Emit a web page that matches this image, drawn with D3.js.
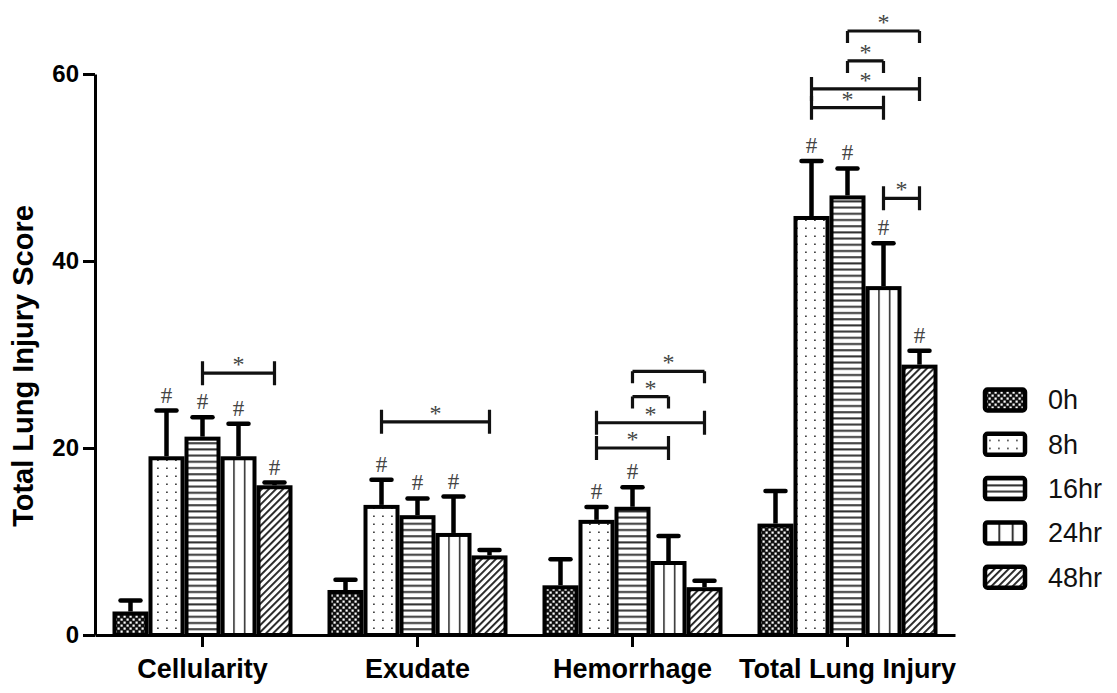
<!DOCTYPE html>
<html>
<head>
<meta charset="utf-8">
<script src="https://cdn.jsdelivr.net/npm/d3@7"></script>
<style>
  body { margin: 0; background: #fff; }
  text { font-family: "Liberation Sans", Arial, sans-serif; }
</style>
</head>
<body>
<div id="chart"></div>
<script>
// data
const categories = ["Cellularity", "Exudate", "Hemorrhage", "Total Lung Injury"];
const groups = ["0h", "8h", "16hr", "24hr", "48hr"];

const mean0h  = [2.3, 4.6, 5.1, 11.7];
const mean8h  = [18.9, 13.7, 12.1, 44.6];
const mean16h = [21.0, 12.6, 13.5, 46.8];
const mean24h = [18.9, 10.7, 7.7, 37.1];
const mean48h = [15.8, 8.3, 4.9, 28.7];

const err0h  = [1.4, 1.3, 3.0, 3.7];
const err8h  = [5.1, 2.9, 1.6, 6.1];
const err16h = [2.3, 2.0, 2.3, 3.1];
const err24h = [3.7, 4.1, 2.9, 4.8];
const err48h = [0.5, 0.8, 0.9, 1.7];

// "#" = different from 0h
const hash0h  = [0, 0, 0, 0];
const hash8h  = [1, 1, 1, 1];
const hash16h = [1, 1, 1, 1];
const hash24h = [1, 1, 0, 1];
const hash48h = [1, 0, 0, 1];

const yTicks = [0, 20, 40, 60];

// significance brackets (* p<0.05), level in score units
const bracketCat   = ["Cellularity", "Exudate", "Hemorrhage", "Hemorrhage", "Hemorrhage", "Hemorrhage",
                      "Total Lung Injury", "Total Lung Injury", "Total Lung Injury", "Total Lung Injury", "Total Lung Injury"];
const bracketFrom  = ["16hr", "8h", "16hr", "16hr", "8h", "8h", "16hr", "16hr", "8h", "8h", "24hr"];
const bracketTo    = ["48hr", "48hr", "48hr", "24hr", "48hr", "24hr", "48hr", "24hr", "48hr", "24hr", "48hr"];
const bracketLevel = [28.0, 22.8, 28.2, 25.5, 22.7, 20.0, 64.6, 61.4, 58.4, 56.4, 46.7];
const bracketKind  = ["both", "both", "down", "down", "both", "both", "down", "down", "both", "both", "both"];

const means = [mean0h, mean8h, mean16h, mean24h, mean48h];
const errs = [err0h, err8h, err16h, err24h, err48h];
const hashes = [hash0h, hash8h, hash16h, hash24h, hash48h];

const width = 1117, height = 693;

let svg = d3.select("#chart").append("svg")
    .attr("width", width)
    .attr("height", height);

svg.append("rect").attr("width", width).attr("height", height).attr("fill", "#fff");

// ---- patterns ----
let defs = svg.append("defs");

let p0 = defs.append("pattern").attr("id", "pat0").attr("patternUnits", "userSpaceOnUse")
    .attr("width", 6).attr("height", 6);
p0.append("rect").attr("width", 6).attr("height", 6).attr("fill", "#111");
p0.append("rect").attr("x", 0.5).attr("y", 0.5).attr("width", 2.2).attr("height", 2.2).attr("fill", "#fff");
p0.append("rect").attr("x", 3.5).attr("y", 3.5).attr("width", 2.2).attr("height", 2.2).attr("fill", "#fff");

let p1 = defs.append("pattern").attr("id", "pat1").attr("patternUnits", "userSpaceOnUse")
    .attr("width", 9).attr("height", 8);
p1.append("rect").attr("width", 9).attr("height", 8).attr("fill", "#fff");
p1.append("rect").attr("x", 4).attr("y", 3.5).attr("width", 1.8).attr("height", 1.5).attr("fill", "#444");

let p2 = defs.append("pattern").attr("id", "pat2").attr("patternUnits", "userSpaceOnUse")
    .attr("width", 6).attr("height", 6.2);
p2.append("rect").attr("width", 6).attr("height", 6.2).attr("fill", "#fff");
p2.append("rect").attr("y", 2).attr("width", 6).attr("height", 2).attr("fill", "#333");

let p3 = defs.append("pattern").attr("id", "pat3").attr("patternUnits", "objectBoundingBox")
    .attr("patternContentUnits", "objectBoundingBox")
    .attr("width", 1 / 3).attr("height", 1);
p3.append("rect").attr("width", 1 / 3).attr("height", 1).attr("fill", "#fff");
p3.append("rect").attr("x", 0).attr("width", 0.05).attr("height", 1).attr("fill", "#333");

let p4 = defs.append("pattern").attr("id", "pat4").attr("patternUnits", "userSpaceOnUse")
    .attr("width", 5).attr("height", 5).attr("patternTransform", "rotate(45)");
p4.append("rect").attr("width", 5).attr("height", 5).attr("fill", "#fff");
p4.append("rect").attr("x", 0).attr("width", 1.9).attr("height", 5).attr("fill", "#222");

const patternIds = ["pat0", "pat1", "pat2", "pat3", "pat4"];

// ---- scales ----
let y = d3.scaleLinear().domain([0, 60]).range([635, 74]);

let x0 = d3.scaleBand()
    .domain(categories)
    .range([95, 955])
    .paddingInner(35 / 215)
    .paddingOuter(35 / 430);

let x1 = d3.scaleBand()
    .domain(groups)
    .range([0, x0.bandwidth()]);

function barCenter(cat, g) {
    return x0(cat) + x1(g) + x1.bandwidth() / 2;
}

// ---- bars ----
let rows = [];
groups.forEach(function(g, gi) {
    categories.forEach(function(c, ci) {
        rows.push({cat: c, group: g, gi: gi, value: means[gi][ci], err: errs[gi][ci], hash: hashes[gi][ci]});
    });
});

svg.append("g").selectAll("rect")
    .data(rows)
    .enter()
    .append("rect")
    .attr("x", function(d) { return x0(d.cat) + x1(d.group) + 2; })
    .attr("y", function(d) { return y(d.value); })
    .attr("width", x1.bandwidth() - 4)
    .attr("height", function(d) { return y(0) - y(d.value); })
    .attr("fill", function(d) { return "url(#" + patternIds[d.gi] + ")"; })
    .attr("stroke", "#000")
    .attr("stroke-width", 4);

// error bars (upper only)
let errG = svg.append("g").attr("stroke", "#000").attr("stroke-width", 4.5);
errG.selectAll("line.v")
    .data(rows)
    .enter()
    .append("line")
    .attr("class", "v")
    .attr("x1", function(d) { return barCenter(d.cat, d.group); })
    .attr("x2", function(d) { return barCenter(d.cat, d.group); })
    .attr("y1", function(d) { return y(d.value) - 2; })
    .attr("y2", function(d) { return y(d.value + d.err); });
errG.selectAll("line.cap")
    .data(rows)
    .enter()
    .append("line")
    .attr("class", "cap")
    .attr("x1", function(d) { return barCenter(d.cat, d.group) - 10; })
    .attr("x2", function(d) { return barCenter(d.cat, d.group) + 10; })
    .attr("y1", function(d) { return y(d.value + d.err); })
    .attr("y2", function(d) { return y(d.value + d.err); })
    .attr("stroke-linecap", "round");

// "#" marks
svg.append("g").selectAll("text")
    .data(rows.filter(function(d) { return d.hash; }))
    .enter()
    .append("text")
    .attr("x", function(d) { return barCenter(d.cat, d.group); })
    .attr("y", function(d) { return y(d.value + d.err) - 8; })
    .attr("text-anchor", "middle")
    .style("font-family", "'Liberation Serif', 'DejaVu Serif', serif")
    .style("font-size", "23px")
    .attr("fill", "#444")
    .text("#");

// ---- brackets ----
let brackets = bracketCat.map(function(c, i) {
    return {cat: c, from: bracketFrom[i], to: bracketTo[i], level: bracketLevel[i], kind: bracketKind[i]};
});

let bG = svg.append("g");
brackets.forEach(function(b) {
    let xa = barCenter(b.cat, b.from), xb = barCenter(b.cat, b.to), yy = y(b.level);
    let up = b.kind == "both" ? 12 : 0, down = 12;
    let path = d3.path();
    path.moveTo(xa, yy - up); path.lineTo(xa, yy + down);
    path.moveTo(xb, yy - up); path.lineTo(xb, yy + down);
    path.moveTo(xa, yy); path.lineTo(xb, yy);
    bG.append("path")
        .attr("d", path.toString())
        .attr("fill", "none")
        .attr("stroke", "#111")
        .attr("stroke-width", 3.2);
    bG.append("text")
        .attr("x", (xa + xb) / 2)
        .attr("y", yy - 1)
        .attr("text-anchor", "middle")
        .style("font-family", "'Liberation Serif', 'DejaVu Serif', serif")
        .style("font-size", "24px")
        .attr("fill", "#444")
        .text("*");
});

// ---- axes ----
let yAxis = svg.append("g")
    .attr("transform", "translate(95,0)")
    .call(d3.axisLeft(y).tickValues(yTicks).tickSize(12).tickSizeOuter(0).tickPadding(4));
yAxis.select(".domain").attr("stroke-width", 3);
yAxis.selectAll(".tick line").attr("stroke-width", 3);
yAxis.selectAll(".tick text")
    .style("font-size", "24px")
    .style("font-weight", "bold")
    .attr("fill", "#000");

let xAxis = svg.append("g")
    .attr("transform", "translate(0,635)")
    .call(d3.axisBottom(x0).tickSize(12).tickSizeOuter(0).tickPadding(12));
xAxis.select(".domain").attr("stroke-width", 3);
xAxis.selectAll(".tick line").attr("stroke-width", 3);
xAxis.selectAll(".tick text")
    .style("font-size", "27px")
    .style("font-weight", "bold")
    .attr("fill", "#000");

svg.append("text")
    .attr("transform", "translate(33,366) rotate(-90)")
    .attr("text-anchor", "middle")
    .style("font-size", "29px")
    .style("font-weight", "bold")
    .text("Total Lung Injury Score");

// ---- legend ----
let legend = svg.append("g").selectAll("g")
    .data(groups)
    .enter()
    .append("g")
    .attr("transform", function(d, i) { return "translate(985," + (400 + i * 44.3) + ")"; });

legend.append("rect")
    .attr("x", 0)
    .attr("y", -10.5)
    .attr("width", 40)
    .attr("height", 21)
    .attr("rx", 2.5)
    .attr("fill", function(d, i) { return "url(#" + patternIds[i] + ")"; })
    .attr("stroke", "#000")
    .attr("stroke-width", 4.5);

legend.append("text")
    .attr("x", 63)
    .attr("y", 0)
    .attr("dy", "0.35em")
    .style("font-size", "27px")
    .attr("fill", "#111")
    .text(function(d) { return d; });
</script>
</body>
</html>
